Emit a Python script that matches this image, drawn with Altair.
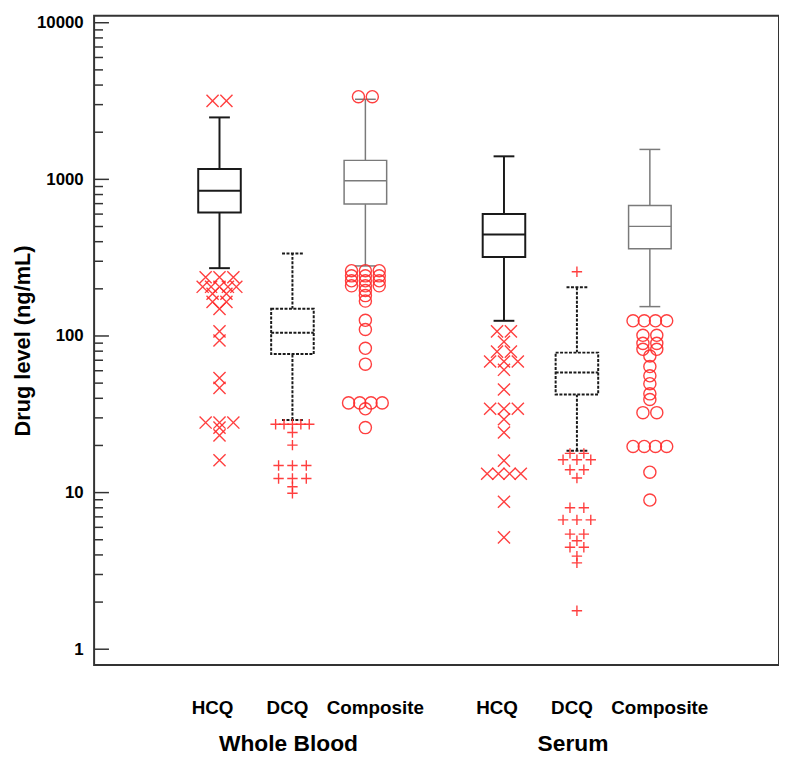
import altair as alt
import pandas as pd
from collections import Counter

# ---------------- data ----------------
groups = ["Whole Blood", "Serum"]
drugs = ["HCQ", "DCQ", "Composite"]

# box statistics, order: WB-HCQ, WB-DCQ, WB-Composite, S-HCQ, S-DCQ, S-Composite
whisker_low = [271, 29.1, 280, 125, 18.5, 154]
q1 = [615, 76.7, 695, 319, 42.3, 361]
median = [847, 105, 979, 444, 58.5, 501]
q3 = [1166, 149, 1322, 601, 78.3, 681]
whisker_high = [2486, 336, 3245, 1403, 205, 1553]

wb_hcq_outliers = [3170, 3170, 237, 237, 237, 206, 206, 206, 206, 206, 186, 186,
                   165, 165, 149, 107, 93.6, 53.9, 46.6, 28.0, 28.0, 28.0, 26.0,
                   23.2, 16.1]
wb_dcq_outliers = [27.3, 27.3, 27.3, 27.3, 27.3, 24.2, 20.1, 14.9, 14.9, 14.9,
                   12.3, 12.3, 12.3, 10.9, 9.9]
wb_comp_outliers = [3370, 3370, 261, 261, 261, 242, 242, 242, 225, 225, 225,
                    209, 209, 209, 195, 181, 167, 126, 110, 83.4, 66.1,
                    37.4, 37.4, 37.4, 37.4, 34.3, 26.0]
s_hcq_outliers = [107, 107, 91.9, 79.4, 79.4, 68.7, 68.7, 68.7, 60.8, 45.5,
                  34.3, 34.3, 34.3, 29.4, 24.2, 16.0, 13.2, 13.2, 13.2, 13.2,
                  8.74, 5.18]
s_dcq_outliers = [257, 17.8, 17.8, 16.2, 16.2, 16.2, 14.0, 14.0, 12.4, 8.0, 8.0,
                  6.7, 6.7, 6.7, 5.43, 5.43, 4.93, 4.48, 4.48, 3.93, 3.56, 1.76]
s_comp_outliers = [125, 125, 125, 125, 101, 101, 89.7, 89.7, 82.2, 82.2, 74.5,
                   63.8, 55.7, 49.6, 42.7, 39.3, 32.4, 32.4,
                   19.7, 19.7, 19.7, 19.7, 13.5, 8.96]
outlier_lists = [wb_hcq_outliers, wb_dcq_outliers, wb_comp_outliers,
                 s_hcq_outliers, s_dcq_outliers, s_comp_outliers]

y_major = [1, 10, 100, 1000, 10000]

# ---------------- layout / style parameters ----------------
UNIT_PX = 73.7          # pixels per slot
GROUP_STEP = 3.9        # slots between groups
PLOT_W, PLOT_H = 692, 656
X_DOMAIN = [-1.719, -1.719 + PLOT_W / UNIT_PX]
Y_DOMAIN = [0.792, 11070]
BOX_HALF = 21.5 / UNIT_PX
CAP_HALF = 10.5 / UNIT_PX
RED = "#ff2b2b"
FONT = "Liberation Sans"
LABEL_SHIFT = {"HCQ": -7, "DCQ": -5, "Composite": 10}

STYLE = {
    "HCQ": dict(color="#1a1a1a", strokeWidth=2),
    "DCQ": dict(color="#1a1a1a", strokeWidth=2, strokeDash=[3, 1.5]),
    "Composite": dict(color="#7a7a7a", strokeWidth=1.5),
}
SHAPE = {
    "HCQ": dict(shape="M-1,-1L1,1M-1,1L1,-1", size=150),
    "DCQ": dict(shape="M-1,0L1,0M0,-1L0,1", size=110),
    "Composite": dict(shape="circle", size=150),
}

# ---------------- tables ----------------
box_rows, out_rows, label_rows = [], [], []
for gi, g in enumerate(groups):
    for di, d in enumerate(drugs):
        k = gi * 3 + di
        pos = gi * GROUP_STEP + di
        box_rows.append(dict(group=g, drug=d, pos=pos,
                             left=pos - BOX_HALF, right=pos + BOX_HALF,
                             capl=pos - CAP_HALF, capr=pos + CAP_HALF,
                             lo=whisker_low[k], q1=q1[k], med=median[k],
                             q3=q3[k], hi=whisker_high[k]))
        label_rows.append(dict(drug=d, lx=pos + LABEL_SHIFT[d] / UNIT_PX))
        vals = outlier_lists[k]
        counts = Counter(vals)
        seen = {}
        for v in vals:
            n = counts[v]
            j = seen.get(v, 0)
            seen[v] = j + 1
            step = min(14.0, 34.0 / (n - 1)) if n > 1 else 0.0
            off = (j - (n - 1) / 2) * step
            out_rows.append(dict(drug=d, xo=pos + off / UNIT_PX, v=v))

box_df = pd.DataFrame(box_rows)
out_df = pd.DataFrame(out_rows)
label_df = pd.DataFrame(label_rows)
group_df = pd.DataFrame(dict(group=groups,
                             gx=[gi * GROUP_STEP + 1 - 4 / UNIT_PX for gi in range(len(groups))]))
minor = [m * 10 ** e for e in range(4) for m in range(2, 10)]
tick_df = pd.DataFrame(dict(v=y_major + minor,
                            major=[True] * len(y_major) + [False] * len(minor)))

xs = alt.Scale(domain=X_DOMAIN, nice=False, zero=False)
ys = alt.Scale(type="log", domain=Y_DOMAIN, nice=False)

yaxis = alt.Axis(values=y_major, format="d", ticks=False, domain=False, grid=False,
                 labelFont=FONT, labelFontWeight="bold", labelFontSize=17,
                 labelColor="black", labelPadding=11,
                 title="Drug level (ng/mL)", titleFont=FONT, titleFontWeight="bold",
                 titleFontSize=22, titleColor="black", titlePadding=2)


def Y(field):
    return alt.Y(field, scale=ys, axis=yaxis)


def X(field):
    return alt.X(field, scale=xs, axis=None)


layers = []
# tick marks drawn inside the frame
ticks_major = alt.Chart(tick_df).transform_filter(alt.datum.major).mark_rule(
    color="#333", strokeWidth=1.5).encode(
    y=Y("v:Q"), x=alt.value(0), x2=alt.value(15))
ticks_minor = alt.Chart(tick_df).transform_filter(~alt.datum.major).mark_rule(
    color="#333", strokeWidth=1.5).encode(
    y=Y("v:Q"), x=alt.value(0), x2=alt.value(9))
layers += [ticks_major, ticks_minor]

for d in drugs:
    st = STYLE[d]
    base = alt.Chart(box_df).transform_filter(alt.datum.drug == d)
    common = dict(strokeCap="butt", **st)
    whisk_up = base.mark_rule(**common).encode(x=X("pos:Q"), y=Y("q3:Q"), y2="hi:Q")
    whisk_dn = base.mark_rule(**common).encode(x=X("pos:Q"), y=Y("lo:Q"), y2="q1:Q")
    cap_hi = base.mark_rule(**common).encode(x=X("capl:Q"), x2="capr:Q", y=Y("hi:Q"))
    cap_lo = base.mark_rule(**common).encode(x=X("capl:Q"), x2="capr:Q", y=Y("lo:Q"))
    rect_kw = dict(st)
    color = rect_kw.pop("color")
    box = base.mark_rect(fill="white", stroke=color, **rect_kw).encode(
        x=X("left:Q"), x2="right:Q", y=Y("q1:Q"), y2="q3:Q")
    med = base.mark_rule(**common).encode(x=X("left:Q"), x2="right:Q", y=Y("med:Q"))
    pts = alt.Chart(out_df).transform_filter(alt.datum.drug == d).mark_point(
        filled=False, color=RED, strokeWidth=1.4, opacity=0.9, **SHAPE[d]).encode(
        x=X("xo:Q"), y=Y("v:Q"))
    layers += [whisk_up, whisk_dn, cap_hi, cap_lo, box, med, pts]

labels = alt.Chart(label_df).mark_text(
    font=FONT, fontWeight="bold", fontSize=19, color="black", baseline="alphabetic").encode(
    x=X("lx:Q"), y=alt.value(705), text="drug:N")
gtitles = alt.Chart(group_df).mark_text(
    font=FONT, fontWeight="bold", fontSize=23, color="black", baseline="alphabetic").encode(
    x=X("gx:Q"), y=alt.value(743), text="group:N")
layers += [labels, gtitles]

chart = alt.layer(*layers).properties(
    width=PLOT_W, height=PLOT_H,
    padding={"left": 3, "top": 1, "right": 0, "bottom": 0},
).configure(font=FONT).configure_view(stroke="#333", strokeWidth=2)

chart.save("out.html", embed_options={"renderer": "svg", "actions": False})
